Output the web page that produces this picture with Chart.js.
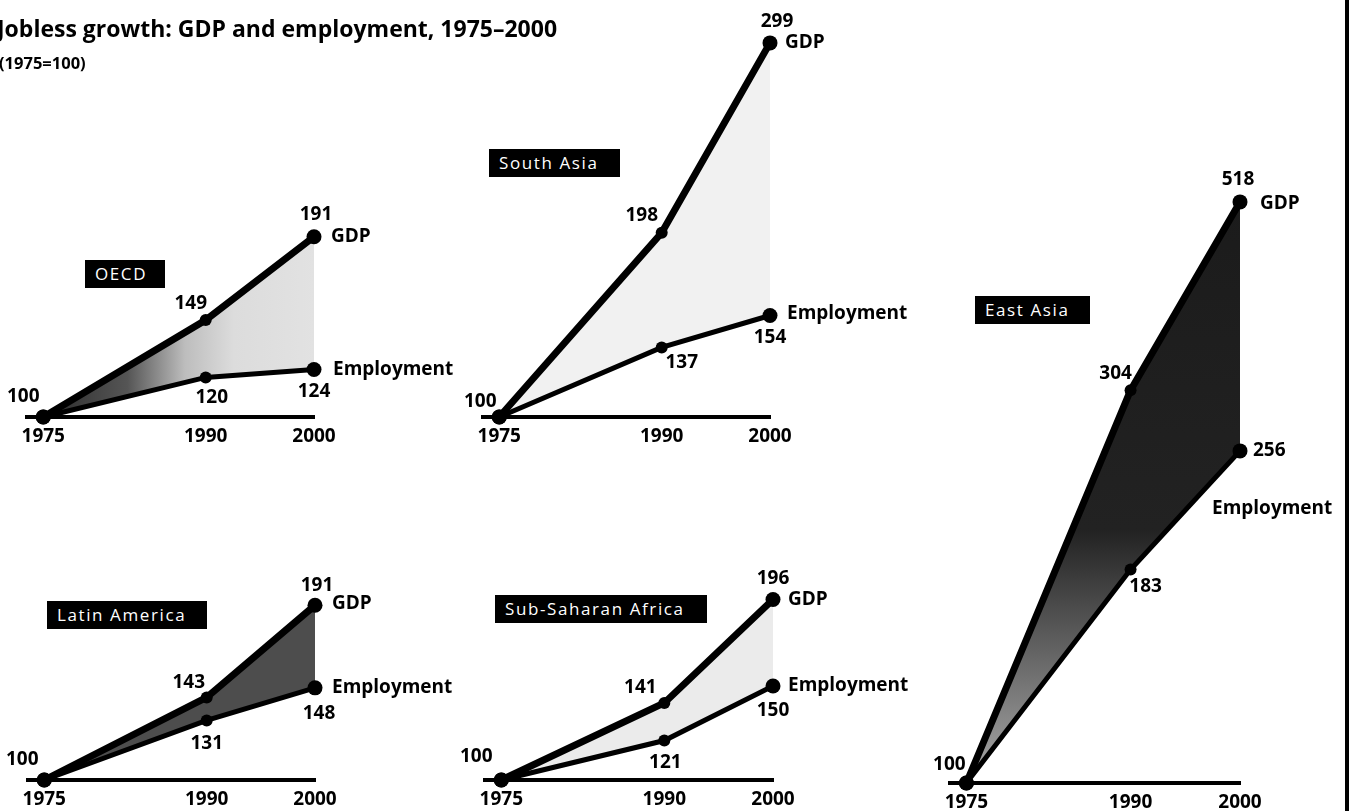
<!DOCTYPE html>
<html lang="en">
<head>
  <meta charset="UTF-8">
  <title>Jobless growth: GDP and employment, 1975–2000</title>
  <style>
    body {
      margin: 0;
      width: 1354px;
      height: 811px;
      background: #fff;
      position: relative;
      overflow: hidden;
      font-family: 'Open Sans', 'Noto Sans', sans-serif;
    }
    canvas {
      position: absolute;
      left: 0;
      top: 0;
    }
    .title {
      position: absolute;
      left: -3px;
      top: 17px;
      font-size: 23px;
      font-weight: bold;
      line-height: 23px;
      white-space: nowrap;
    }
    .subtitle {
      position: absolute;
      left: -1px;
      top: 54px;
      font-size: 16.5px;
      font-weight: bold;
      line-height: 17px;
    }
    .region {
      position: absolute;
      background: #000;
      color: #fff;
      font-size: 17px;
      line-height: 28px;
      height: 28px;
      padding: 0 0 0 10px;
      letter-spacing: 1.6px;
      white-space: nowrap;
      box-sizing: border-box;
    }
    .edge {
      position: absolute;
      left: 1345px;
      top: 0;
      width: 4px;
      height: 811px;
      background: #000;
    }
  </style>
</head>
<body>
  <canvas id="oecd" width="1354" height="811"></canvas>
  <canvas id="southAsia" width="1354" height="811"></canvas>
  <canvas id="eastAsia" width="1354" height="811"></canvas>
  <canvas id="latinAmerica" width="1354" height="811"></canvas>
  <canvas id="ssa" width="1354" height="811"></canvas>

  <div class="title">Jobless growth: GDP and employment, 1975–2000</div>
  <div class="subtitle">(1975=100)</div>

  <div class="region" style="left:85px; top:260px; width:80px;">OECD</div>
  <div class="region" style="left:489px; top:149px; width:131px;">South Asia</div>
  <div class="region" style="left:975px; top:296px; width:115px;">East Asia</div>
  <div class="region" style="left:47px; top:601px; width:160px;">Latin America</div>
  <div class="region" style="left:495px; top:595px; width:212px;">Sub-Saharan Africa</div>

  <div class="edge"></div>

  <script src="https://cdn.jsdelivr.net/npm/chart.js"></script>
  <script>
    const years = [1975, 1990, 2000];
    const seriesNames = ['GDP', 'Employment'];

    const oecdGdp = [100, 149, 191];
    const oecdEmp = [100, 120, 124];
    const southAsiaGdp = [100, 198, 299];
    const southAsiaEmp = [100, 137, 154];
    const eastAsiaGdp = [100, 304, 518];
    const eastAsiaEmp = [100, 183, 256];
    const latinGdp = [100, 143, 191];
    const latinEmp = [100, 131, 148];
    const ssaGdp = [100, 141, 196];
    const ssaEmp = [100, 121, 150];

    const FONT = "'Open Sans', 'Noto Sans', sans-serif";
    const AXIS_H = 30;
    const W = 1354, H = 811;

    // draws the value next to each point and the series name at the end
    const pointLabels = {
      id: 'pointLabels',
      afterDatasetsDraw(chart, args, opts) {
        const ctx = chart.ctx;
        ctx.save();
        ctx.fillStyle = '#000';
        ctx.font = 'bold 19px ' + FONT;
        ctx.textBaseline = 'middle';
        chart.data.datasets.forEach((ds, di) => {
          const meta = chart.getDatasetMeta(di);
          const offs = opts.values[di];
          meta.data.forEach((pt, i) => {
            const o = offs[i];
            if (!o) return;
            ctx.textAlign = o[2] || 'center';
            ctx.fillText(String(ds.data[i].y), pt.x + o[0], pt.y + o[1]);
          });
          const last = meta.data[meta.data.length - 1];
          const n = opts.names[di];
          ctx.textAlign = 'left';
          ctx.fillText(ds.label, last.x + n[0], last.y + n[1]);
        });
        ctx.restore();
      }
    };

    function makePanel(id, gdp, emp, p) {
      const toPts = arr => years.map((y, i) => ({ x: y, y: arr[i] }));
      new Chart(document.getElementById(id), {
        type: 'line',
        data: {
          datasets: [
            {
              label: seriesNames[0],
              data: toPts(gdp),
              borderColor: '#000',
              borderWidth: 7,
              pointRadius: [7.5, 6, 7.5],
              pointBackgroundColor: '#000',
              pointBorderWidth: 0,
              fill: '+1',
              backgroundColor: p.fill,
              clip: false
            },
            {
              label: seriesNames[1],
              data: toPts(emp),
              borderColor: '#000',
              borderWidth: 5,
              pointRadius: [7.5, 6, 7.5],
              pointBackgroundColor: '#000',
              pointBorderWidth: 0,
              fill: false,
              clip: false
            }
          ]
        },
        options: {
          responsive: false,
          animation: false,
          events: [],
          layout: {
            padding: { left: p.left, right: W - p.right, top: p.top, bottom: H - p.base - AXIS_H }
          },
          scales: {
            x: {
              type: 'linear',
              min: 1973.5,
              max: 2000,
              afterBuildTicks: s => { s.ticks = years.map(v => ({ value: v })); },
              afterFit: s => { s.height = AXIS_H; },
              grid: { display: false, drawTicks: false },
              border: { display: true, color: '#000', width: 4 },
              ticks: {
                color: '#000',
                font: { family: FONT, size: 19, weight: 'bold' },
                padding: 8,
                maxRotation: 0,
                autoSkip: false,
                callback: v => String(v)
              }
            },
            y: {
              type: p.log ? 'logarithmic' : 'linear',
              min: 100,
              max: p.max,
              display: false
            }
          },
          plugins: {
            legend: { display: false },
            tooltip: { enabled: false },
            filler: { drawTime: 'beforeDatasetsDraw' },
            pointLabels: { values: p.values, names: p.names }
          }
        },
        plugins: [pointLabels]
      });
    }

    function oecdFill(c) {
      const a = c.chart.chartArea;
      if (!a) return '#d8d8d8';
      const g = c.chart.ctx.createLinearGradient(a.left, 0, a.right, 0);
      g.addColorStop(0, '#222');
      g.addColorStop(0.35, '#555');
      g.addColorStop(0.55, '#bdbdbd');
      g.addColorStop(0.72, '#dcdcdc');
      g.addColorStop(1, '#e2e2e2');
      return g;
    }

    function eastAsiaFill(c) {
      const a = c.chart.chartArea;
      if (!a) return '#222';
      const g = c.chart.ctx.createLinearGradient(0, a.top, 0, a.bottom);
      g.addColorStop(0, '#1a1a1a');
      g.addColorStop(0.6, '#222');
      g.addColorStop(0.8, '#666');
      g.addColorStop(1, '#aaa');
      return g;
    }

    makePanel('oecd', oecdGdp, oecdEmp, {
      left: 27, right: 314, base: 417, top: 21, max: 300,
      fill: oecdFill,
      values: [[[-20, -20], [-15, -16], [2, -22]], [null, [6, 20], [0, 22]]],
      names: [[17, 0], [19, 0]]
    });

    makePanel('southAsia', southAsiaGdp, southAsiaEmp, {
      left: 483, right: 770, base: 417, top: 41, max: 300,
      fill: '#f1f1f1',
      values: [[[-19, -15], [-20, -17], [7, -21]], [null, [20, 15], [0, 22]]],
      names: [[15, 0], [17, -2]]
    });

    makePanel('eastAsia', eastAsiaGdp, eastAsiaEmp, {
      left: 950, right: 1240, base: 783, top: 150, max: 600, log: true,
      fill: eastAsiaFill,
      values: [[[-17, -18], [-15, -17], [-2, -22]], [null, [15, 17], [13, 0, 'left']]],
      names: [[20, 2], [-28, 58]]
    });

    makePanel('latinAmerica', latinGdp, latinEmp, {
      left: 28, right: 315, base: 780, top: 396, max: 300,
      fill: '#4d4d4d',
      values: [[[-22, -20], [-18, -15], [2, -20]], [null, [0, 23], [4, 26]]],
      names: [[17, -2], [17, 0]]
    });

    makePanel('ssa', ssaGdp, ssaEmp, {
      left: 485, right: 773, base: 780, top: 404, max: 300,
      fill: '#ebebeb',
      values: [[[-25, -23], [-24, -15], [0, -21]], [null, [1, 22], [0, 25]]],
      names: [[15, 0], [15, 0]]
    });
  </script>
</body>
</html>
